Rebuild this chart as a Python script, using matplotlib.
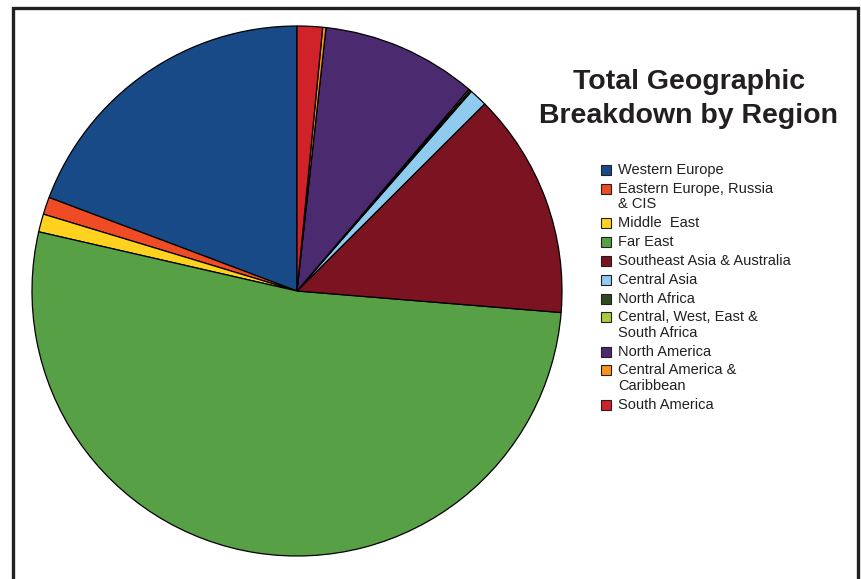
import numpy as np
import matplotlib
matplotlib.use('Agg')
import matplotlib.pyplot as plt
from matplotlib.patches import Rectangle

regions = ['Western Europe', 'Eastern Europe, Russia\n& CIS', 'Middle  East', 'Far East',
           'Southeast Asia & Australia', 'Central Asia', 'North Africa',
           'Central, West, East &\nSouth Africa', 'North America',
           'Central America &\nCaribbean', 'South America']
shares = [19.3, 1.06, 1.1, 52.4, 13.8, 1.1, 0.1, 0.1, 9.5, 0.2, 1.55]
colors = ['#174a86', '#ef4b24', '#ffd21f', '#58a045', '#7b1420', '#8ecbef',
          '#2f4a1c', '#a8cc3a', '#4b2a70', '#f7941e', '#cf2229']

W, H = 862, 579
fig = plt.figure(figsize=(W / 100, H / 100), dpi=100)

# frame around the chart
fig.patches.append(Rectangle((13/W, -0.05), 845/W, 1.05 - 8/H,
                             transform=fig.transFigure, fill=False,
                             edgecolor='#231f20', linewidth=2.4))

ax = fig.add_axes([32/W, 23/H, 530/W, 530/H])
ax.pie(shares, colors=colors, startangle=90, counterclock=True,
       wedgeprops=dict(edgecolor='black', linewidth=0.9))
ax.set_xlim(-1, 1)
ax.set_ylim(-1, 1)
ax.set_aspect('equal')
ax.axis('off')

fig.text(689/W, 1 - 99/H, 'Total Geographic\nBreakdown by Region',
         ha='center', va='center', fontsize=20.5, fontweight='bold',
         family='Liberation Sans', color='#231f20', linespacing=1.38)

# legend, marker next to first line of each entry
y = 170.0
for lab, c in zip(regions, colors):
    fig.patches.append(Rectangle((601/W, 1 - (y + 5)/H), 10/W, 10/H,
                                 transform=fig.transFigure, facecolor=c,
                                 edgecolor='#231f20', linewidth=0.8))
    for k, line in enumerate(lab.split('\n')):
        fig.text(618/W, 1 - (y + 15.4*k)/H, line, ha='left', va='center',
                 fontsize=10.5, family='Liberation Sans', color='#231f20')
    y += 18.85 + 15.4*(lab.count('\n'))

fig.savefig('out.png', dpi=100)
